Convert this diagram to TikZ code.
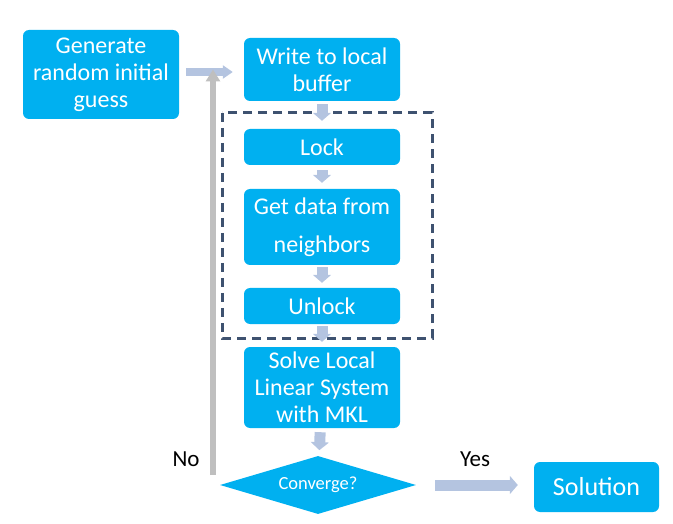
\documentclass[tikz,border=0pt]{standalone}
\usepackage{fontspec}
\setmainfont{Carlito}
\usepackage{tikz}
\usetikzlibrary{shapes.geometric, arrows.meta, positioning}
\definecolor{boxblue}{HTML}{00B0F0}
\definecolor{flowblue}{RGB}{180,196,224}
\definecolor{backgray}{RGB}{191,191,191}
\definecolor{framegray}{RGB}{62,82,112}

\begin{document}
\begin{tikzpicture}
  [
    x=1pt, y=-1pt,
    Box/.style={rectangle, rounded corners=6pt, fill=boxblue, text=white, minimum width=156pt, inner sep=0pt, align=center, font=\fontsize{24}{27}\selectfont},
    Decide/.style={diamond, fill=boxblue, text=white, aspect=3.38, minimum width=196pt, minimum height=58pt, inner sep=0pt, font=\fontsize{18.5}{20}\selectfont},
    Flow/.style={-{Triangle[width=18pt, length=8pt]}, draw=flowblue, line width=11pt},
    Side/.style={-{Triangle[width=13pt, length=10pt]}, draw=flowblue, line width=8pt},
    Back/.style={-{Triangle[width=14pt, length=12pt]}, draw=backgray, line width=6pt},
    Frame/.style={draw=framegray, line width=3pt, dash pattern=on 9pt off 6pt},
    Tag/.style={text=black, font=\fontsize{23}{25}\selectfont}
  ]
  \useasboundingbox (0,0) rectangle (673,524);
  % Nodes
  \node[Box, minimum height=89pt] (gen) at (101,74.5) {Generate\\random initial\\guess};
  \node[Box, minimum height=63pt] (write) at (322,69.5) {Write to local\\buffer};
  \node[Box, minimum height=36pt] (lock) at (322,147) {Lock};
  \node[Box, minimum height=76pt, font=\fontsize{24}{38}\selectfont] (get) at (322,227) {Get data from\\neighbors};
  \node[Box, minimum height=36pt] (unlock) at (322,306) {Unlock};
  \node[Box, minimum height=81pt] (solve) at (322,387.5) {Solve Local\\Linear System\\with MKL};
  \node[Decide] (conv) at (318,485) {Converge?};
  \node[Box, minimum width=125pt, minimum height=50pt, font=\fontsize{26}{28}\selectfont] (sol) at (596.5,487) {Solution};
  \node[Tag] (no) at (186,459) {No};
  \node[Tag] (yes) at (475,459) {Yes};
  \coordinate (back) at (213,475);
  \coordinate (entry) at ([yshift=-2.5pt]write.west);
  % Frame
  \draw[Frame] (222,113) rectangle (432,338);
  % Lines
  \path [Side, shorten <=7pt, shorten >=11pt] (gen.east |- entry) -- (entry);
  \path [Flow, shorten <=3pt, shorten >=8pt] (write) -- (lock);
  \path [Flow, shorten <=5pt, shorten >=6pt] (lock) -- (get);
  \path [Flow, shorten <=2pt, shorten >=5pt] (get) -- (unlock);
  \path [Flow, shorten <=2pt, shorten >=5pt] (unlock) -- (solve);
  \path [Flow, shorten <=4pt, shorten >=6pt] (solve) -- (conv);
  \path [Flow, shorten <=19pt, shorten >=16pt] (conv.east) -- (conv.east -| sol.west);
  \path [Back] (back) -- (back |- write.west);
\end{tikzpicture}
\end{document}
